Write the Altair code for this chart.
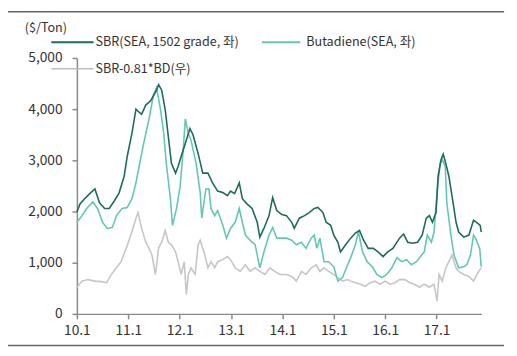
import altair as alt
import pandas as pd

# ---- data (decimal year, $/Ton) ----
sbr_t = [2010.00, 2010.06, 2010.15, 2010.25, 2010.35, 2010.44, 2010.54, 2010.63, 2010.73, 2010.82,
         2010.92, 2010.98, 2011.07, 2011.15, 2011.21, 2011.26, 2011.34, 2011.44, 2011.55, 2011.59,
         2011.65, 2011.72, 2011.78, 2011.84, 2011.92, 2011.97, 2012.03, 2012.11, 2012.20, 2012.26,
         2012.36, 2012.45, 2012.55, 2012.64, 2012.74, 2012.84, 2012.93, 2012.99, 2013.07, 2013.16,
         2013.22, 2013.31, 2013.41, 2013.51, 2013.56, 2013.64, 2013.74, 2013.81, 2013.89, 2013.99,
         2014.08, 2014.18, 2014.23, 2014.33, 2014.43, 2014.52, 2014.62, 2014.69, 2014.79, 2014.85,
         2014.94, 2015.00, 2015.08, 2015.13, 2015.23, 2015.33, 2015.42, 2015.50, 2015.58, 2015.67,
         2015.77, 2015.86, 2015.96, 2016.05, 2016.15, 2016.28, 2016.36, 2016.44, 2016.53, 2016.63,
         2016.72, 2016.80, 2016.86, 2016.92, 2016.99, 2017.03, 2017.09, 2017.13, 2017.18, 2017.24,
         2017.30, 2017.38, 2017.43, 2017.53, 2017.63, 2017.72, 2017.78, 2017.85, 2017.87]
sbr_v = [1990, 2150, 2250, 2350, 2440, 2170, 2060, 2060, 2210, 2360,
         2690, 3080, 3520, 4000, 3940, 3900, 4080, 4170, 4370, 4480,
         4370, 3980, 3460, 2940, 2750, 2880, 3080, 3330, 3620, 3500,
         3130, 2750, 2750, 2560, 2400, 2370, 2310, 2400, 2350, 2560,
         2250, 2150, 2060, 1790, 1500, 1670, 1920, 2270, 2020, 1940,
         1920, 1790, 1670, 1870, 1920, 1980, 2060, 2080, 1980, 1790,
         1730, 1540, 1400, 1210, 1350, 1480, 1580, 1630, 1440, 1280,
         1280, 1210, 1120, 1210, 1280, 1480, 1560, 1400, 1380, 1400,
         1540, 1870, 1920, 1790, 1980, 2690, 3020, 3120, 2940, 2690,
         2310, 1790, 1600, 1500, 1540, 1830, 1790, 1730, 1600]

bd_t = [2010.00, 2010.10, 2010.19, 2010.31, 2010.40, 2010.50, 2010.59, 2010.69, 2010.77, 2010.88,
        2010.98, 2011.07, 2011.15, 2011.21, 2011.30, 2011.40, 2011.49, 2011.55, 2011.63, 2011.69,
        2011.74, 2011.82, 2011.86, 2011.94, 2012.01, 2012.07, 2012.11, 2012.17, 2012.22, 2012.32,
        2012.40, 2012.43, 2012.51, 2012.57, 2012.61, 2012.68, 2012.74, 2012.84, 2012.91, 2012.99,
        2013.08, 2013.16, 2013.22, 2013.28, 2013.37, 2013.47, 2013.56, 2013.64, 2013.74, 2013.81,
        2013.89, 2013.99, 2014.08, 2014.18, 2014.27, 2014.37, 2014.46, 2014.56, 2014.62, 2014.67,
        2014.73, 2014.81, 2014.90, 2015.00, 2015.08, 2015.17, 2015.27, 2015.33, 2015.42, 2015.48,
        2015.56, 2015.65, 2015.75, 2015.84, 2015.94, 2016.03, 2016.13, 2016.23, 2016.32, 2016.42,
        2016.51, 2016.61, 2016.71, 2016.76, 2016.82, 2016.90, 2016.95, 2017.01, 2017.07, 2017.11,
        2017.17, 2017.20, 2017.28, 2017.34, 2017.43, 2017.53, 2017.59, 2017.66, 2017.72, 2017.76,
        2017.84, 2017.87]
bd_v = [1790, 1920, 2060, 2190, 2060, 1790, 1670, 1690, 1920, 2060,
        2080, 2250, 2560, 2880, 3330, 3790, 4270, 4420, 3980, 3520,
        2940, 2250, 1730, 2060, 2500, 3210, 3810, 3520, 3400, 2940,
        2370, 1870, 2440, 2440, 2060, 1920, 2020, 1730, 1480, 1670,
        1790, 2060, 1790, 1540, 1440, 1350, 900, 1210, 1540, 1690,
        1480, 1480, 1480, 1440, 1350, 1400, 1280, 1480, 1540, 1280,
        1480, 1020, 1020, 920, 640, 710, 960, 1100, 1350, 1600,
        1210, 1020, 920, 770, 710, 770, 900, 1100, 1020, 1060,
        960, 1020, 1150, 1210, 1540, 1400, 1600, 2370, 2940, 3020,
        2880, 2170, 1540, 1150, 900, 920, 960, 1150, 1540, 1480,
        1280, 920]

sp_t = [2010.00, 2010.10, 2010.21, 2010.35, 2010.48, 2010.58, 2010.67, 2010.77, 2010.86, 2010.96,
        2011.05, 2011.15, 2011.19, 2011.26, 2011.34, 2011.40, 2011.46, 2011.53, 2011.59, 2011.65,
        2011.72, 2011.78, 2011.84, 2011.92, 2011.97, 2012.03, 2012.09, 2012.13, 2012.17, 2012.22,
        2012.30, 2012.36, 2012.40, 2012.49, 2012.55, 2012.61, 2012.68, 2012.74, 2012.84, 2012.93,
        2012.99, 2013.08, 2013.18, 2013.28, 2013.37, 2013.47, 2013.56, 2013.66, 2013.76, 2013.85,
        2013.95, 2014.08, 2014.18, 2014.27, 2014.37, 2014.46, 2014.56, 2014.66, 2014.73, 2014.81,
        2014.90, 2015.00, 2015.08, 2015.17, 2015.27, 2015.33, 2015.42, 2015.52, 2015.61, 2015.71,
        2015.80, 2015.90, 2016.00, 2016.09, 2016.19, 2016.28, 2016.38, 2016.48, 2016.57, 2016.67,
        2016.76, 2016.86, 2016.95, 2017.01, 2017.05, 2017.11, 2017.18, 2017.24, 2017.30, 2017.38,
        2017.43, 2017.53, 2017.63, 2017.72, 2017.82, 2017.87]
sp_v = [520, 640, 670, 640, 630, 610, 770, 900, 1020, 1280,
        1540, 1870, 1980, 1670, 1400, 1290, 1150, 770, 1290, 1400,
        1630, 1400, 1350, 1210, 1020, 770, 1020, 380, 770, 900,
        770, 1350, 1440, 1150, 900, 1020, 900, 1020, 1060, 1120,
        1060, 900, 830, 960, 830, 900, 830, 770, 900, 830,
        770, 770, 730, 640, 830, 770, 900, 960, 830, 900,
        830, 770, 710, 640, 670, 640, 610, 580, 540, 610,
        640, 580, 640, 580, 610, 670, 670, 610, 580, 520,
        580, 520, 580, 250, 770, 640, 900, 1020, 1150, 900,
        830, 770, 730, 640, 830, 900]

x_ticks = [2010, 2011, 2012, 2013, 2014, 2015, 2016, 2017]
y_ticks = [0, 1000, 2000, 3000, 4000, 5000]

names = ["SBR(SEA, 1502 grade, 좌)", "Butadiene(SEA, 좌)", "SBR-0.81*BD(우)"]
colors = ["#1d6b5b", "#62c7b4", "#c6c6c6"]

FONT = "Noto Sans CJK KR"
TXT = "#333333"
AX = "#8a8a8a"

x_enc = alt.X("t:Q",
              scale=alt.Scale(domain=[2010, 2017.874], nice=False, zero=False),
              axis=alt.Axis(values=x_ticks, title=None, grid=False, labelFlush=False,
                            labelExpr="substring(toString(datum.value), 2) + '.1'",
                            tickSize=5, labelPadding=5))
y_enc = alt.Y("v:Q",
              scale=alt.Scale(domain=[0, 5000], nice=False),
              axis=alt.Axis(values=y_ticks, title=None, grid=False, format=",.0f",
                            labelFlush=False, tickSize=5, labelPadding=10))


def series(t, v, color):
    return alt.Chart(pd.DataFrame({"t": t, "v": v})).mark_line(
        color=color, strokeWidth=1.6, interpolate="linear"
    ).encode(x=x_enc, y=y_enc)


one = pd.DataFrame({"a": [0]})


def rule(x1, x2, y, color, w):
    return alt.Chart(one).mark_rule(color=color, strokeWidth=w).encode(
        x=alt.value(x1), x2=alt.value(x2), y=alt.value(y))


def label(x, y, s, size=12.8):
    return alt.Chart(one).mark_text(
        text=s, align="left", baseline="middle", font=FONT, fontSize=size, color=TXT
    ).encode(x=alt.value(x), y=alt.value(y))


layers = [
    series(sp_t, sp_v, colors[2]),
    series(bd_t, bd_v, colors[1]),
    series(sbr_t, sbr_v, colors[0]),
    # legend
    rule(-26, 17, -16, colors[0], 2),
    label(19, -16, names[0]),
    rule(188, 227, -16, colors[1], 2),
    label(233, -16, names[1]),
    rule(-26, 17, 11, "#bdbdbd", 1.5),
    label(19, 11, names[2]),
    label(-53, -30, "($/Ton)"),
    # decorative page rules
    rule(-73, 434, -47, "#666666", 1.5),
    rule(-73, 434, 292, "#666666", 1.5),
]

chart = alt.layer(*layers).properties(
    width=411, height=260,
    autosize=alt.AutoSizeParams(type="none"),
    padding={"left": 70, "top": 48, "right": 28, "bottom": 40},
).configure_view(stroke=None).configure_axis(
    domainColor=AX, tickColor=AX, domainWidth=1.5, tickWidth=1.5,
    labelFont=FONT, labelFontSize=14, labelColor=TXT,
)

chart.save("out.html", embed_options={"renderer": "svg", "actions": False})
